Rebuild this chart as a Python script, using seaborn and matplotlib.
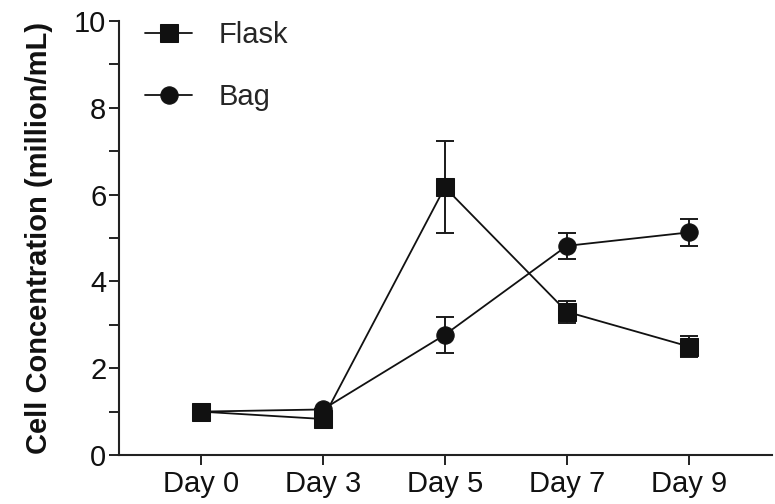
import matplotlib
matplotlib.use("Agg")
import matplotlib.pyplot as plt
import seaborn as sns
import pandas as pd
import numpy as np

days = ["Day 0", "Day 3", "Day 5", "Day 7", "Day 9"]
flask = [1.0, 0.83, 6.17, 3.30, 2.50]
flask_err = [0.0, 0.0, 1.06, 0.25, 0.25]
bag = [1.0, 1.05, 2.77, 4.82, 5.13]
bag_err = [0.0, 0.0, 0.42, 0.30, 0.31]

sns.set_style("ticks")
plt.rcParams['font.family'] = ['Liberation Sans', 'DejaVu Sans']

df = pd.DataFrame({
    "pos": list(range(len(days))) * 2,
    "value": flask + bag,
    "err": flask_err + bag_err,
    "group": ["Flask"] * len(days) + ["Bag"] * len(days),
})

fig = plt.figure(figsize=(7.75, 5.04), dpi=100)
ax = fig.add_axes([0.1535, 0.0972, 0.8425, 0.861])

for g, sub in df.groupby("group", sort=False):
    ax.errorbar(sub["pos"], sub["value"], yerr=sub["err"], fmt="none",
                ecolor="#1a1a1a", elinewidth=1.4, capsize=6.5, capthick=1.4, zorder=2)

sns.lineplot(data=df, x="pos", y="value", hue="group", style="group",
             markers={"Flask": "s", "Bag": "o"}, dashes=False,
             palette={"Flask": "#111111", "Bag": "#111111"},
             markersize=12.5, linewidth=1.3, markeredgecolor="#111111",
             ax=ax, zorder=3, legend=True)

ax.set_xlim(-0.67, 4.68)
ax.set_ylim(0, 10)
ax.set_xticks(range(len(days)))
ax.set_xticklabels(days)
ax.set_yticks([0, 2, 4, 6, 8, 10])
ax.set_yticks([1, 3, 5, 7, 9], minor=True)
ax.tick_params(axis="both", which="both", length=7, width=1.4, color="#222222",
               labelsize=21, labelcolor="#111111", pad=2)
ax.tick_params(axis="x", pad=4)
ax.tick_params(axis="y", which="minor", length=7)
ax.set_xlabel("")
ax.set_ylabel("Cell Concentration (million/mL)", fontsize=21, fontweight="bold",
              color="#111111", labelpad=15)
for s in ["top", "right"]:
    ax.spines[s].set_visible(False)
for s in ["left", "bottom"]:
    ax.spines[s].set_linewidth(1.5)
    ax.spines[s].set_color("#222222")

handles, labels = ax.get_legend_handles_labels()
ax.legend(handles, labels, loc="upper left", bbox_to_anchor=(0.0, 1.06), frameon=False,
          fontsize=21, handlelength=1.6, handletextpad=0.9, labelspacing=1.15,
          markerscale=1.0)

fig.savefig("out.png", dpi=100)
